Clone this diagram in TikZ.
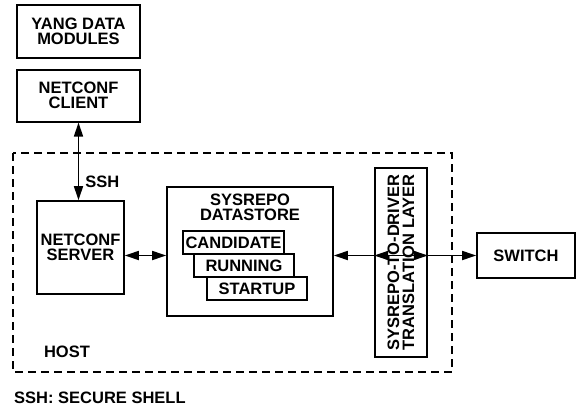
\documentclass[tikz,border=0pt]{standalone}
\usepackage{fontspec}
\setmainfont{Liberation Sans}
\usetikzlibrary{positioning,arrows.meta}

\begin{document}
\begin{tikzpicture} [
       x=1pt, y=-1pt,
       font=\fontsize{16.5}{15}\selectfont\bfseries,
       block/.style={draw, line width=1.7pt, align=center, inner sep=0pt},
       store/.style={block, minimum width=100pt, minimum height=23pt},
       texte/.style={inner sep=0pt, align=center},
       link/.style={draw, line width=1.7pt,
               {Triangle[length=14pt,width=9pt]}-{Triangle[length=14pt,width=9pt]}},
       hostline/.style={draw, line width=2pt, dash pattern=on 8pt off 5pt},
       ]
       \useasboundingbox (0,0) rectangle (577,409);
       \node (yang) [block, minimum width=123pt, minimum height=53pt] at (78.5,31.5) {YANG DATA\\MODULES};
       \node (client) [block, minimum width=123pt, minimum height=52pt, below=10pt of yang] {NETCONF\\CLIENT};
       \path[hostline] (13,153) rectangle (452,372);
       \node (server) [block, minimum width=87pt, minimum height=93pt] at (80.5,247.5) {NETCONF\\SERVER};
       \node (datastore) [block, minimum width=166pt, minimum height=129pt] at (250,251.5) {};
       \node (title) [texte, below=8pt of datastore.north] {SYSREPO\\DATASTORE};
       \node (candidate) [store, minimum width=101pt] at (233.5,242.5) {CANDIDATE};
       \node (running) [store] at (244,265.5) {RUNNING};
       \node (startup) [store] at (257,288.5) {STARTUP};
       \node (layer) [block, rotate=90, minimum width=189pt, minimum height=52pt] at (401,262.5) {SYSREPO-TO-DRIVER\\TRANSLATION LAYER};
       \node (switch) [block, minimum width=98pt, minimum height=45pt] at (526,255.5) {SWITCH};
       \node (host) [texte] at (67,352) {HOST};
       \node (note) [texte, anchor=west] at (14,398) {SSH: SECURE SHELL};
        \begin{scope}[every path/.style=link]
        \path (client.south) -- (client.south |- server.north) node[pos=0.77, right=6pt, texte] {SSH};
        \path (server.east |- switch.west) -- (datastore.west |- switch.west);
        \path (datastore.east |- switch.west) -- (layer.south |- switch.west);
        \path (layer.north |- switch.west) -- (switch.west);
\end{scope}
\end{tikzpicture}
\end{document}
